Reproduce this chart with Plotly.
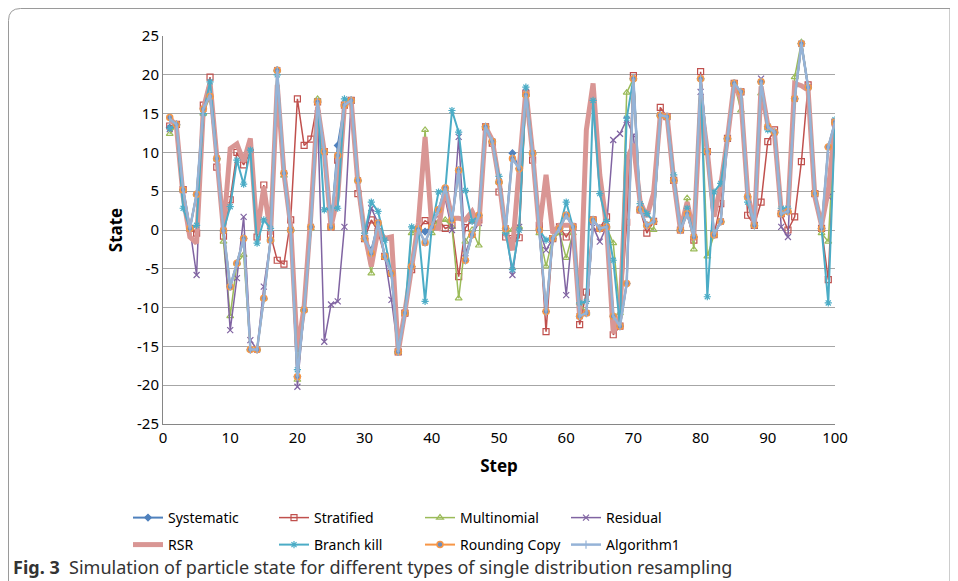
import plotly.graph_objects as go

steps = list(range(1, 101))

systematic = [
    13.2, 13.6, 5.2, 0.2, 4.6, 15.6, 17.2, 9.2, -0.1, -7.3,
    -4.3, -1.1, -15.4, -15.4, -8.8, -1.3, 20.6, 7.3, 0.0, -18.9,
    -10.3, 0.4, 16.5, 10.1, 0.4, 10.9, 16.1, 16.7, 6.4, -1.1,
    -2.6, 0.9, -3.4, -5.6, -15.7, -10.7, -4.7, 0.1, -0.2, 0.4,
    2.6, 5.4, 1.3, 7.7, -3.9, -0.6, 1.9, 13.3, 11.4, 6.2,
    0.2, 9.9, 7.9, 17.4, 9.9, 0.0, -10.5, -1.1, 0.2, 1.9,
    0.4, -11.1, -10.7, 1.3, 0.2, 0.4, -11.1, -12.4, -6.9, 19.5,
    2.6, 0.6, 1.1, 14.8, 14.6, 6.4, 0.0, 2.1, -0.9, 19.5,
    10.1, -0.6, 1.1, 11.8, 18.9, 17.8, 4.3, 0.6, 19.1, 13.3,
    12.6, 2.1, 2.4, 16.9, 24.0, 18.4, 4.7, 0.2, 10.7, 13.9,
]

stratified = [
    13.4, 13.6, 5.2, 0.2, -0.4, 16.1, 19.7, 8.1, -0.8, 3.9,
    10.0, 8.4, 10.0, -0.9, 5.8, -0.6, -3.9, -4.4, 1.3, 16.9,
    10.9, 11.7, 16.5, 10.1, 0.4, 9.0, 16.1, 16.7, 4.7, -1.1,
    1.3, -0.2, -3.4, -5.6, -15.7, -10.7, -5.1, 0.1, 1.2, 0.6,
    1.3, 0.2, 0.6, -6.0, 0.3, 1.3, 1.3, 13.3, 11.2, 4.9,
    -0.9, -1.1, -1.0, 17.6, 9.0, 0.6, -13.1, -1.1, 0.4, -0.9,
    0.4, -12.2, -8.0, 1.3, 0.2, 1.7, -13.5, -12.4, 1.0, 19.9,
    2.6, -0.4, 1.1, 15.8, 14.6, 6.4, 0.0, 2.1, -1.3, 20.4,
    10.1, -0.6, 3.4, 11.8, 18.9, 17.8, 1.9, 0.6, 3.6, 11.4,
    12.9, 2.1, 0.0, 1.7, 8.8, 18.7, 4.7, 0.2, -6.4, 13.9,
]

multinomial = [
    12.4, 13.6, 5.2, 0.2, 4.6, 15.0, 17.2, 9.2, -1.5, -11.1,
    -4.3, -3.2, -15.4, -15.4, -8.8, -1.3, 20.6, 7.0, 0.0, -19.3,
    -10.3, 0.2, 16.9, 10.1, 0.4, 9.6, 16.1, 16.7, 6.4, -1.1,
    -5.6, 0.9, -3.4, -5.6, -15.7, -10.7, -0.4, 0.1, 12.9, -0.4,
    1.0, 1.3, 0.4, -8.8, -1.5, 0.0, -2.0, 13.3, 11.4, 6.2,
    -0.2, 0.0, 0.4, 17.4, 9.9, -0.4, -4.7, -1.1, -0.4, -3.6,
    -0.4, -9.4, -10.7, 1.3, 0.2, 0.4, -1.7, -10.7, 17.7, 19.5,
    2.6, 0.6, 0.0, 14.8, 14.6, 6.4, 0.0, 4.1, -2.5, 19.5,
    -3.4, -0.6, 1.1, 11.8, 18.9, 15.4, 4.3, 0.6, 17.6, 13.3,
    12.6, 2.1, 2.4, 19.7, 24.2, 18.4, 4.7, -0.4, -1.5, 13.9,
]

residual = [
    13.0, 13.6, 5.2, 0.2, -5.8, 15.6, 17.2, 9.2, -0.1, -12.9,
    -6.2, 1.7, -14.2, -15.4, -7.3, -1.3, 20.6, 7.3, 0.0, -20.2,
    -10.3, 0.4, 15.0, -14.4, -9.6, -9.2, 0.4, 16.7, 6.4, -1.1,
    2.8, 0.9, -3.4, -9.0, -15.7, -10.7, -4.7, 0.1, -1.6, 0.4,
    2.6, 4.0, 0.0, 12.0, -3.0, -0.6, 0.9, 13.3, 11.4, 6.2,
    0.2, -5.8, 0.4, 17.8, 9.9, 0.0, -2.6, -1.1, 0.2, -8.4,
    0.4, -11.1, -10.7, 0.4, -1.5, 0.4, 11.6, 12.4, 14.2, 12.2,
    2.6, 0.6, 1.1, 14.8, 14.6, 6.4, 0.0, 2.1, -0.9, 17.8,
    10.1, -0.6, 1.1, 11.8, 18.9, 17.8, 4.3, 0.6, 19.5, 13.3,
    12.6, 0.4, -0.9, 16.9, 24.0, 18.4, 4.7, 0.2, 4.3, 13.0,
]

rsr = [
    14.5, 13.3, 4.3, -0.9, -1.7, 15.6, 19.0, 9.2, 0.0, 10.5,
    11.1, 8.8, 11.8, -0.5, 5.6, -0.6, 18.7, 7.3, 0.6, -15.7,
    -9.9, 1.9, 15.9, 10.1, 0.4, 4.3, 16.1, 16.7, 6.0, -0.4,
    -4.7, 0.0, -1.1, -0.9, -15.7, -10.5, -4.7, 0.9, 12.0, 0.4,
    0.2, 5.6, 1.5, 1.5, 1.3, 2.4, 0.6, 13.3, 11.6, 6.4,
    -0.4, -2.6, 7.9, 18.0, 9.9, 0.0, 7.1, -0.4, 0.6, 0.6,
    0.6, -11.1, 12.9, 18.9, 7.1, 0.6, -13.3, -11.1, 9.0, 11.1,
    3.6, 1.7, 4.7, 14.8, 14.8, 6.4, 0.0, 3.6, -0.6, 16.7,
    10.1, 1.7, 5.8, 11.8, 18.9, 16.9, 4.7, 0.6, 18.5, 13.5,
    12.4, 2.4, 2.4, 18.9, 18.6, 18.0, 4.3, 0.6, 5.1, 13.5,
]

branch_kill = [
    13.1, 13.6, 2.8, 0.2, 0.6, 15.0, 19.1, 9.2, -0.1, 3.0,
    9.0, 5.9, 10.3, -1.7, 1.3, 0.2, 20.0, 7.3, 0.0, -18.0,
    -10.3, 0.4, 16.5, 2.6, 2.8, 2.8, 16.9, 16.7, 6.4, -0.4,
    3.6, 2.4, -1.3, -5.6, -15.7, -10.7, 0.4, 0.1, -9.2, 0.4,
    4.9, 5.1, 15.4, 12.6, 5.1, 1.1, 1.9, 13.3, 11.4, 6.9,
    -0.4, -5.1, 0.0, 18.4, 9.9, 0.0, -1.3, -1.1, 0.2, 3.6,
    0.4, -9.4, -9.2, 16.7, 4.7, 1.1, -3.9, -12.4, 14.4, 19.5,
    3.4, 2.1, 1.1, 14.8, 14.6, 7.1, 0.0, 2.8, -0.9, 19.5,
    -8.6, 4.9, 6.0, 11.8, 18.9, 17.8, 3.6, 0.6, 19.1, 12.9,
    12.6, 2.8, 2.8, 16.9, 24.0, 18.4, 4.7, 0.2, -9.4, 14.2,
]

rounding_copy = [
    14.5, 13.6, 5.2, 0.2, 4.6, 15.6, 17.2, 9.2, -0.1, -7.3,
    -4.3, -1.1, -15.4, -15.4, -8.8, -1.3, 20.6, 7.3, 0.0, -18.9,
    -10.3, 0.4, 16.5, 10.1, 0.4, 9.6, 16.1, 16.7, 6.4, -1.1,
    -3.0, 0.9, -3.4, -5.6, -15.7, -10.7, -4.7, 0.1, -1.6, 0.4,
    2.6, 5.4, 1.3, 7.7, -3.9, -0.6, 1.9, 13.3, 11.4, 6.2,
    0.2, 9.2, 7.9, 17.4, 9.9, 0.0, -10.5, -1.1, 0.2, 1.9,
    0.4, -11.1, -10.7, 1.3, 0.2, 0.4, -11.1, -12.4, -6.9, 19.5,
    2.6, 0.6, 1.1, 14.8, 14.6, 6.4, 0.0, 2.1, -0.9, 19.5,
    10.1, -0.6, 1.1, 11.8, 18.9, 17.8, 4.3, 0.6, 19.1, 13.3,
    12.6, 2.1, 2.4, 16.9, 24.0, 18.4, 4.7, 0.2, 10.7, 13.9,
]

algorithm1 = [
    14.3, 13.6, 5.2, 0.2, 4.6, 15.6, 17.4, 9.2, -0.1, -7.3,
    -4.3, -1.1, -15.4, -15.4, -8.8, -1.3, 20.6, 7.3, 0.0, -18.9,
    -10.3, 0.4, 16.5, 10.1, 0.4, 9.6, 16.1, 16.7, 6.4, -1.1,
    -3.0, 0.9, -3.4, -5.6, -15.7, -10.7, -4.7, 0.1, -1.6, 0.4,
    2.6, 5.4, 1.3, 7.7, -3.9, -0.6, 1.9, 13.3, 11.4, 6.2,
    0.2, 9.2, 7.9, 17.4, 9.9, 0.0, -10.5, -1.1, 0.2, 1.9,
    0.4, -11.1, -10.7, 1.3, 0.2, 0.4, -11.1, -12.4, -6.9, 19.5,
    2.6, 0.6, 1.1, 14.8, 14.6, 6.4, 0.0, 2.1, -0.9, 19.5,
    10.1, -0.6, 1.1, 11.8, 18.9, 17.8, 4.3, 0.6, 19.1, 13.3,
    12.6, 2.1, 2.4, 16.9, 24.0, 18.4, 4.7, 0.2, 10.7, 13.9,
]

y_ticks = [-25, -20, -15, -10, -5, 0, 5, 10, 15, 20, 25]
x_ticks = [0, 10, 20, 30, 40, 50, 60, 70, 80, 90, 100]

font = "Noto Sans"

# name, values, colour, line width, marker symbol, marker size, legend
series = [
    ("Systematic", systematic, "#4F81BD", 2, "diamond", 5, "legend"),
    ("Stratified", stratified, "#C0504D", 1.5, "square-open", 6, "legend"),
    ("Multinomial", multinomial, "#9BBB59", 1.5, "triangle-up-open", 6, "legend"),
    ("Residual", residual, "#8064A2", 1.5, "x-thin-open", 6, "legend"),
    ("RSR", rsr, "#D99694", 5, None, 0, "legend2"),
    ("Branch kill", branch_kill, "#4BACC6", 2, "asterisk-open", 6, "legend2"),
    ("Rounding Copy", rounding_copy, "#F79646", 2, "circle", 6, "legend2"),
    ("Algorithm1", algorithm1, "#95B3D7", 2.5, "line-ns-open", 6, "legend2"),
]

fig = go.Figure()
for name, vals, col, lw, sym, ms, leg in series:
    if sym is None:
        fig.add_trace(go.Scatter(x=steps, y=vals, name=name, mode="lines",
                                 line=dict(color=col, width=lw), legend=leg))
    else:
        mk = dict(symbol=sym, size=ms, color=col, line=dict(color=col, width=1.2))
        if name == "Rounding Copy":
            mk = dict(symbol="circle", size=6, color="#6C8EBF",
                      line=dict(color=col, width=1.5))
        fig.add_trace(go.Scatter(x=steps, y=vals, name=name, mode="lines+markers",
                                 line=dict(color=col, width=lw), marker=mk, legend=leg))

# the page puts the figure 8px in from the top-left corner
OFF = 8
W, H = 958 - OFF, 581 - OFF
L, R, T, B = 163 - OFF, 835 - OFF, 36 - OFF, 424 - OFF
pw, ph = R - L, B - T


def px(x):
    return (x - OFF - L) / pw


def py(y):
    return (B - (y - OFF)) / ph


# frame around the figure, rounded top-left corner
fl, ft, fr, fb = px(8.5), py(8.5), px(950), py(600)
rx, ry = 12 / pw, 12 / ph
fig.add_shape(type="path", xref="paper", yref="paper",
              path=f"M {fl} {fb} L {fl} {ft - ry} Q {fl} {ft} {fl + rx} {ft} L {fr} {ft} L {fr} {fb}",
              line=dict(color="#9a9a9a", width=1))

fig.add_annotation(xref="paper", yref="paper", x=px(11), y=py(567),
                   xanchor="left", yanchor="middle", showarrow=False,
                   text="<b>Fig. 3</b>  Simulation of particle state for different types of single distribution resampling",
                   font=dict(family=font, size=18, color="#333333"))

legend_style = dict(orientation="h", xanchor="left", yanchor="middle",
                    entrywidth=101, entrywidthmode="pixels",
                    font=dict(family=font, size=14, color="black"),
                    bgcolor="rgba(0,0,0,0)", tracegroupgap=0)

fig.update_layout(
    width=W, height=H,
    margin=dict(l=L, r=W - R, t=T, b=H - B),
    paper_bgcolor="white", plot_bgcolor="white",
    showlegend=True,
    legend=dict(x=px(128), y=py(518), **legend_style),
    legend2=dict(x=px(128), y=py(545), **legend_style),
    font=dict(family=font, size=15, color="black"),
)

fig.update_xaxes(range=[0, 100], tickvals=x_ticks, ticktext=[str(v) for v in x_ticks],
                 showgrid=False, zeroline=False, showline=True, linecolor="#868686",
                 ticks="", tickfont=dict(family=font, size=15),
                 title=dict(text="<b>Step</b>", font=dict(family=font, size=17), standoff=14))
fig.update_yaxes(range=[-25, 25], tickvals=y_ticks, ticktext=[str(v) for v in y_ticks],
                 showgrid=True, gridcolor="#a6a6a6", gridwidth=1, zeroline=False,
                 showline=True, linecolor="#868686", ticks="",
                 tickfont=dict(family=font, size=15),
                 title=dict(text="<b>State</b>", font=dict(family=font, size=17), standoff=10))

fig.write_html("out.html")
